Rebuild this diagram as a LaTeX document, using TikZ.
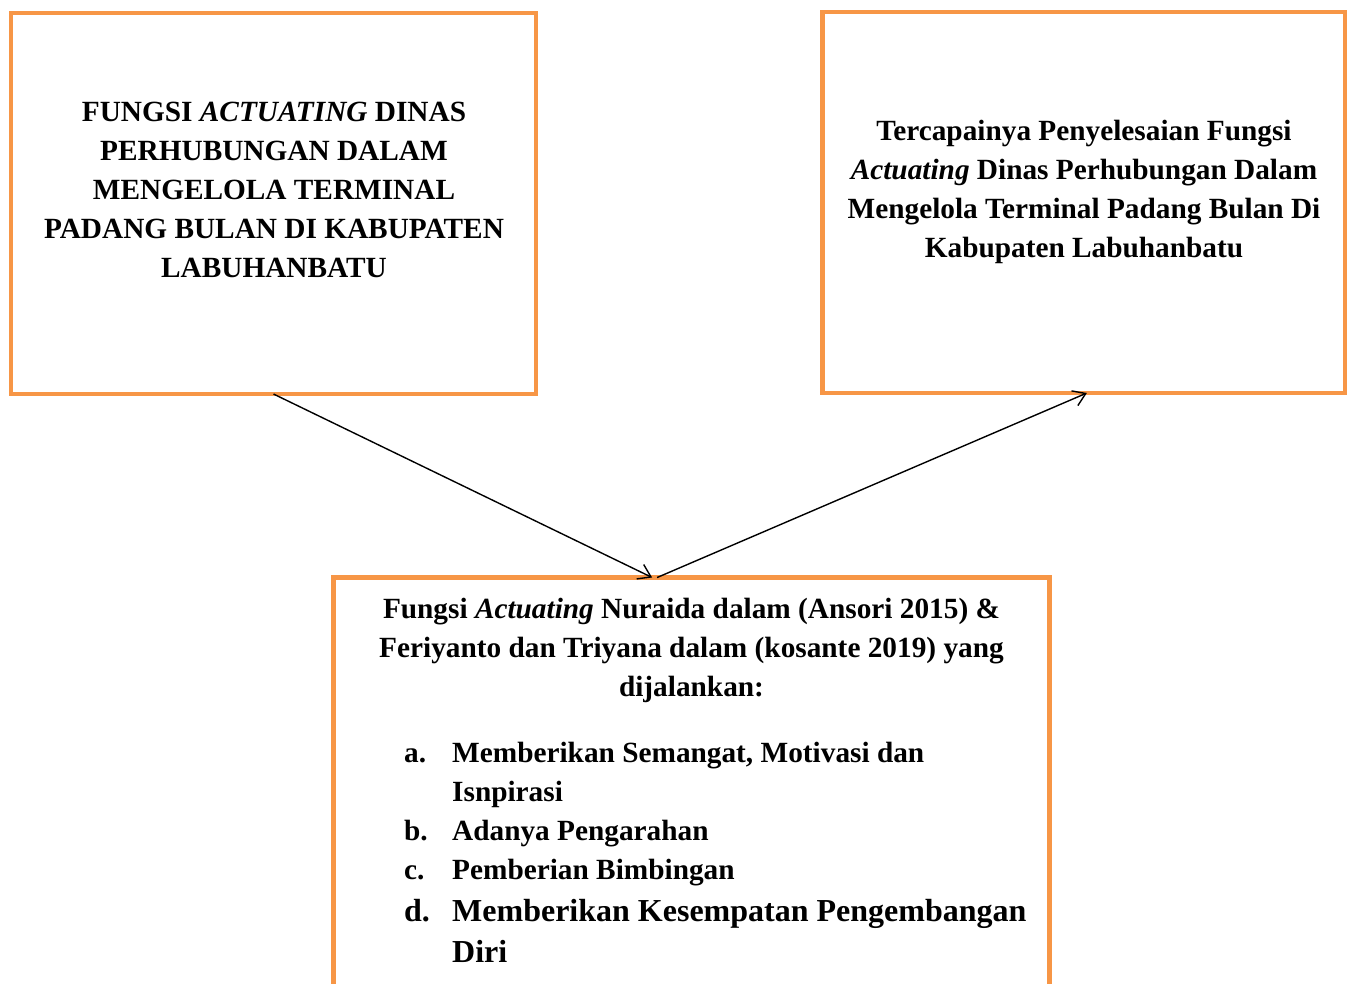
\documentclass[tikz,border=0pt]{standalone}
\usepackage{fontspec}
\setmainfont{Liberation Serif}
\usetikzlibrary{calc,arrows.meta}
\definecolor{boxorange}{HTML}{F79646}
\begin{document}
\begin{tikzpicture}[x=1pt,y=-1pt,
  obox/.style={draw=boxorange,line width=4.5pt,inner sep=0pt,outer sep=0pt},
  txt/.style={font=\fontsize{29.3}{39}\selectfont\bfseries,align=center,inner sep=0pt},
  itm/.style={font=\fontsize{29.3}{39}\selectfont\bfseries,anchor=base west,inner sep=0pt},
  conn/.style={line width=1.4pt,-{Straight Barb[length=12pt,width=16pt,line width=1.4pt]}}]
\clip (0,0) rectangle (1348,983);
\fill[white] (0,0) rectangle (1348,983);
% boxes
\node[obox,minimum width=525pt,minimum height=381pt] (a) at (273.5,203.5) {};
\node[obox,minimum width=522.5pt,minimum height=381pt] (b) at (1083.75,202.5) {};
\node[obox,minimum width=716pt,minimum height=460pt] (c) at (691.5,807.5) {};
% texts
\node[txt,anchor=north] (ta) at (274,101.5) {FUNGSI \textit{ACTUATING} DINAS\\PERHUBUNGAN DALAM\\MENGELOLA TERMINAL\\PADANG BULAN DI KABUPATEN\\LABUHANBATU};
\node[txt,anchor=north] (tb) at (1084,119.5) {Tercapainya Penyelesaian Fungsi\\\textit{Actuating} Dinas Perhubungan Dalam\\Mengelola Terminal Padang Bulan Di\\Kabupaten Labuhanbatu};
\node[txt,anchor=north] (tc) at (691.5,597.5) {Fungsi \textit{Actuating} Nuraida dalam (Ansori 2015) \&\\Feriyanto dan Triyana dalam (kosante 2019) yang\\dijalankan:};
\node[itm] (la) at (404,762) {a.};
\node[itm] (ia) at (452,762) {Memberikan Semangat, Motivasi dan};
\node[itm] (ia2) at (452,801) {Isnpirasi};
\node[itm] (lb) at (404,840) {b.};
\node[itm] (ib) at (452,840) {Adanya Pengarahan};
\node[itm] (lc) at (404,879) {c.};
\node[itm] (ic) at (452,879) {Pemberian Bimbingan};
\node[itm,font=\fontsize{32}{40}\selectfont\bfseries] (ld) at (404,921) {d.};
\node[itm,font=\fontsize{32}{40}\selectfont\bfseries] (id) at (452,921) {Memberikan Kesempatan Pengembangan};
\node[itm,font=\fontsize{32}{40}\selectfont\bfseries] (id2) at (452,962) {Diri};
% connectors
\coordinate (tip1) at ($(c.north west)!0.445!(c.north east)$);
\coordinate (st2) at ($(c.north west)!0.452!(c.north east)$);
\coordinate (tip2) at ($(b.south west)!0.506!(b.south east)$);
\draw[conn] (a.south) -- (tip1);
\draw[conn] (st2) -- (tip2);
\end{tikzpicture}
\end{document}
